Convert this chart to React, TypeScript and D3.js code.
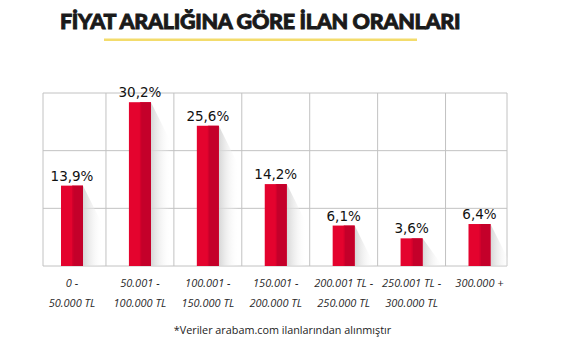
import React from "react";
import * as d3 from "d3";

const categories = ["0 - |50.000 TL", "50.001 - |100.000 TL", "100.001 - |150.000 TL", "150.001 - |200.000 TL", "200.001 TL - |250.000 TL", "250.001 TL - |300.000 TL", "300.000 +|"];
const values = [13.9, 30.2, 25.6, 14.2, 6.1, 3.6, 6.4];
const valueLabels = ["13,9%", "30,2%", "25,6%", "14,2%", "6,1%", "3,6%", "6,4%"];
const title = "FİYAT ARALIĞINA GÖRE İLAN ORANLARI";
const footnote = "*Veriler arabam.com ilanlarından alınmıştır";

const W = 567, H = 355;
const plotL = 43, plotR = 507, plotT = 93, plotB = 266;

export default function App() {
  const x = d3.scalePoint<string>().domain(categories).range([72, 479.5]);
  const y = d3.scaleLinear().domain([-1.8, 32]).range([plotB, plotT]);
  const step = x.step();
  const bw = 22;
  const hLines = d3.range(4).map((i) => plotT + (i * (plotB - plotT)) / 3);
  const vLines = [plotL, ...categories.slice(1).map((c) => (x(c) as number) - step / 2), plotR];

  return (
    <svg width={W} height={H} style={{ position: "absolute", left: 0, top: 0, background: "#fff" }}>
      <defs>
        <linearGradient id="shadow" x1="0" x2="1" y1="0" y2="0">
          <stop offset="0" stopColor="#d4d4d4" stopOpacity="0.95" />
          <stop offset="1" stopColor="#ffffff" stopOpacity="0" />
        </linearGradient>
      </defs>
      <rect width={W} height={H} fill="#fff" />
      <text x={260} y={29} textAnchor="middle" fontFamily="Lato, Roboto, sans-serif" fontWeight={900} fontSize={21.5} fill="#1a1a1a" stroke="#1a1a1a" strokeWidth={0.9} letterSpacing={-0.3}>
        {title}
      </text>
      <rect x={104} y={38.5} width={313} height={2.5} fill="#f3dc6c" />

      {hLines.map((yy, i) => (
        <line key={"h" + i} x1={plotL} x2={plotR} y1={yy} y2={yy} stroke="#c2c2c2" strokeWidth={1} />
      ))}
      {vLines.map((xx, i) => (
        <line key={"v" + i} x1={xx} x2={xx} y1={plotT} y2={plotB} stroke="#c2c2c2" strokeWidth={1} />
      ))}

      {categories.map((c, i) => {
        const cx = x(c) as number;
        const x0 = cx - bw / 2;
        const top = y(values[i]);
        const sh = Math.min(plotB - top, 40);
        return (
          <g key={c}>
            <polygon
              points={`${x0 + bw},${top} ${x0 + bw + 20},${top + sh} ${x0 + bw + 20},${plotB} ${x0 + bw},${plotB}`}
              fill="url(#shadow)"
            />
            <rect x={x0} y={top} width={bw} height={plotB - top} fill="#e4032e" />
            <rect x={x0 + bw * 0.55} y={top} width={bw * 0.45} height={plotB - top} fill="#c4002a" />
            <rect x={x0 + bw * 0.5} y={top} width={bw * 0.06} height={plotB - top} fill="#d3002c" />
            <text x={cx} y={top - 5} textAnchor="middle" fontFamily="'DejaVu Sans', sans-serif" fontSize={13.5} fill="#111">
              {valueLabels[i]}
            </text>
            {c.split("|").map((line, j) => (
              <text key={j} x={cx} y={287 + j * 19.5} textAnchor="middle" fontFamily="'Open Sans', sans-serif" fontStyle="italic" fontSize={11} fill="#2a2a2a">
                {line}
              </text>
            ))}
          </g>
        );
      })}

      <text x={282.5} y={334} textAnchor="middle" fontFamily="'Open Sans', sans-serif" fontSize={10.8} fill="#222">
        {footnote}
      </text>
    </svg>
  );
}
